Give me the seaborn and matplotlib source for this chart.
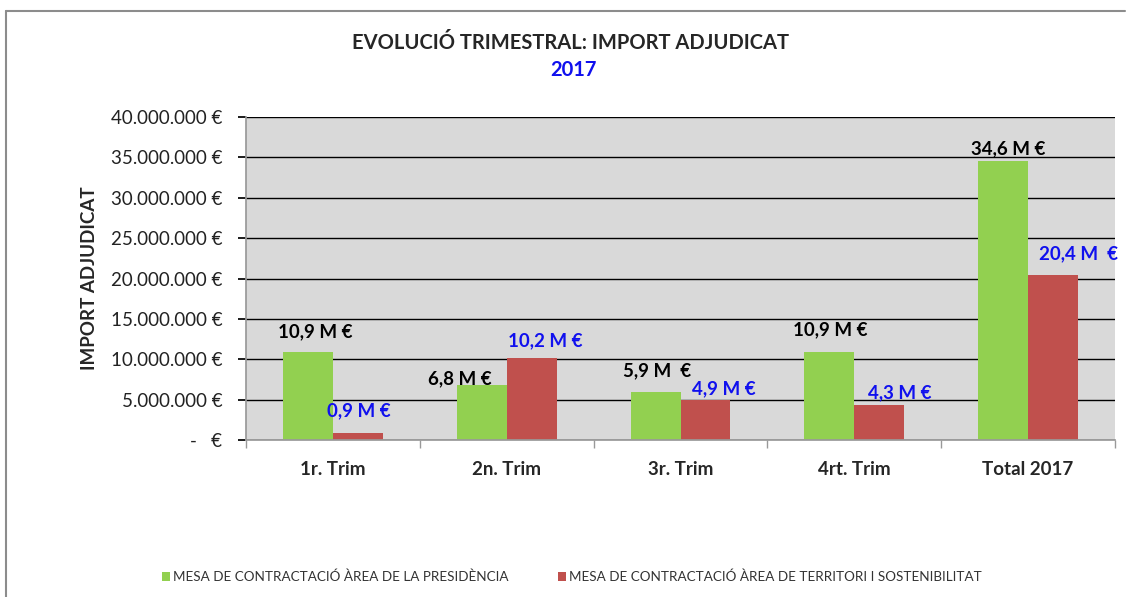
import numpy as np
import pandas as pd
import matplotlib
matplotlib.use("Agg")
import matplotlib.pyplot as plt
import matplotlib.ticker as mticker
from matplotlib.lines import Line2D
import seaborn as sns

# data
trimestres = ["1r. Trim", "2n. Trim", "3r. Trim", "4rt. Trim", "Total 2017"]
presidencia = [10.9e6, 6.8e6, 5.9e6, 10.9e6, 34.6e6]
territori = [0.9e6, 10.2e6, 4.9e6, 4.3e6, 20.4e6]
labels_pres = ["10,9 M €", "6,8 M €", "5,9 M  €", "10,9 M €", "34,6 M €"]
labels_terr = ["0,9 M €", "10,2 M €", "4,9 M €", "4,3 M €", "20,4 M  €"]
series_names = ["MESA DE CONTRACTACIÓ ÀREA DE LA PRESIDÈNCIA",
                "MESA DE CONTRACTACIÓ ÀREA DE TERRITORI I SOSTENIBILITAT"]

# label offsets in points (dx, dy) from the bar top centre
off_pres = [(5, 14.5), (-16, 4.5), (1, 15.5), (1, 16), (4, 8.5)]
off_terr = [(1, 15.5), (10, 12.5), (13, 8.5), (15, 9), (18, 15.5)]

sns.set_theme(style="white")
plt.rcParams['font.family'] = ['Lato', 'DejaVu Sans']

df = pd.DataFrame({
    "trim": trimestres * 2,
    "valor": presidencia + territori,
    "mesa": [series_names[0]] * 5 + [series_names[1]] * 5,
})

fig = plt.figure(figsize=(11.26, 5.97), dpi=100)
ax = fig.add_axes([246 / 1126, 1 - 440 / 597, (1115 - 246) / 1126, (440 - 117) / 597])

sns.barplot(data=df, x="trim", y="valor", hue="mesa", ax=ax,
            palette=["#92D050", "#C0504D"], width=0.575, saturation=1,
            errorbar=None, legend=True, linewidth=0)

ax.set_facecolor("#D9D9D9")
ax.set_ylim(0, 40e6)
ax.set_xlim(-0.5, 4.5)
ax.yaxis.set_major_locator(mticker.MultipleLocator(5e6))


def fmt_eur(v, pos):
    if v == 0:
        return "-   €"
    return f"{v:,.0f}".replace(",", ".") + " €"


ax.yaxis.set_major_formatter(mticker.FuncFormatter(fmt_eur))
ax.grid(axis="y", color="black", linewidth=1)
ax.set_axisbelow(True)
for s in ["top", "right"]:
    ax.spines[s].set_visible(False)
ax.spines["left"].set_color("#999999")
ax.spines["bottom"].set_color("#999999")
ax.tick_params(axis="y", which="major", left=True, length=6, color="black",
               labelsize=13.5, pad=11, labelcolor="#222222")
ax.tick_params(axis="x", which="major", bottom=False, labelsize=13.5, pad=9)
ax.set_xticks(np.arange(-0.5, 5, 1), minor=True)
ax.tick_params(axis="x", which="minor", bottom=True, length=6, color="#999999")
for t in ax.get_xticklabels():
    t.set_fontweight("bold")

ax.set_xlabel("")
ax.set_ylabel("IMPORT ADJUDICAT", fontsize=13.5, fontweight="bold", labelpad=9)

# value labels
for i, c in enumerate(ax.containers):
    texts = labels_pres if i == 0 else labels_terr
    offs = off_pres if i == 0 else off_terr
    col = "black" if i == 0 else "#1010EE"
    for bar, txt, (dx, dy) in zip(c, texts, offs):
        ax.annotate(txt, (bar.get_x() + bar.get_width() / 2, bar.get_height()),
                    xytext=(dx, dy), textcoords="offset points", ha="center",
                    va="center", fontsize=13.5, fontweight="bold", color=col)

# legend
handles, labels = ax.get_legend_handles_labels()
ax.get_legend().remove()
fig.legend(handles, labels, loc="center left", bbox_to_anchor=(150 / 1126, 1 - 577 / 597),
           ncol=2, frameon=False, fontsize=9.7, handlelength=0.55, handleheight=0.75,
           handletextpad=0.25, columnspacing=3.7, labelcolor="#333333")

# titles
fig.text(571 / 1126, 1 - 43 / 597, "EVOLUCIÓ TRIMESTRAL: IMPORT ADJUDICAT",
         ha="center", va="center", fontsize=14.5, fontweight="bold")
fig.text(573 / 1126, 1 - 70 / 597, "2017", ha="center", va="center",
         fontsize=14.5, fontweight="bold", color="#1010EE")

# outer chart border: left edge and top edge only
fig.add_artist(Line2D([6 / 1126, 6 / 1126], [0.0, 1 - 11 / 597],
                      transform=fig.transFigure, color="#8C8C8C", linewidth=1.5))
fig.add_artist(Line2D([6 / 1126, 0.999], [1 - 11 / 597, 1 - 11 / 597],
                      transform=fig.transFigure, color="#8C8C8C", linewidth=1.5))

fig.savefig("out.png", dpi=100)
